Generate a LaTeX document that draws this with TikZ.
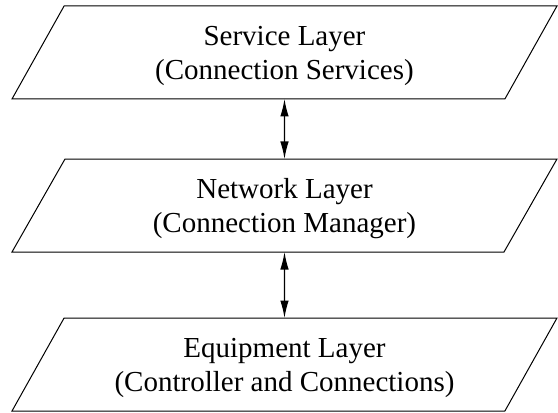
\documentclass[tikz,border=0pt]{standalone}
\usepackage{fontspec}
\setmainfont{Liberation Serif}
\usetikzlibrary{arrows.meta,positioning,shapes.geometric}

\begin{document}
\begin{tikzpicture}[node distance=24pt]
	\tikzstyle{layer}
	  =[draw, trapezium, trapezium left angle=45.6, trapezium right angle=134.4,
	    trapezium stretches body, minimum width=218pt, minimum height=37.2pt,
	    inner sep=0pt, outer sep=0pt, align=center, text depth=0pt,
	    font=\fontsize{11.6pt}{13.6pt}\selectfont]
	\tikzstyle{link}
	  =[{Latex[length=7pt,width=3.4pt]}-{Latex[length=7pt,width=3.4pt]}, line width=0.5pt]

	\useasboundingbox (-113.8pt,21pt) rectangle (109.4pt,-144.2pt);

	\node[layer] (service)
	  {Service Layer\\(Connection Services)};
	\node[layer] (network)
	  [below=of service] {Network Layer\\(Connection Manager)};
	\node[layer] (equipment)
	  [below=26.4pt of network] {Equipment Layer\\(Controller and Connections)};

	\draw[link] (service.south -| service.center)--(network.north -| network.center);
	\draw[link] (network.south -| network.center)--(equipment.north -| equipment.center);
\end{tikzpicture}
\end{document}
